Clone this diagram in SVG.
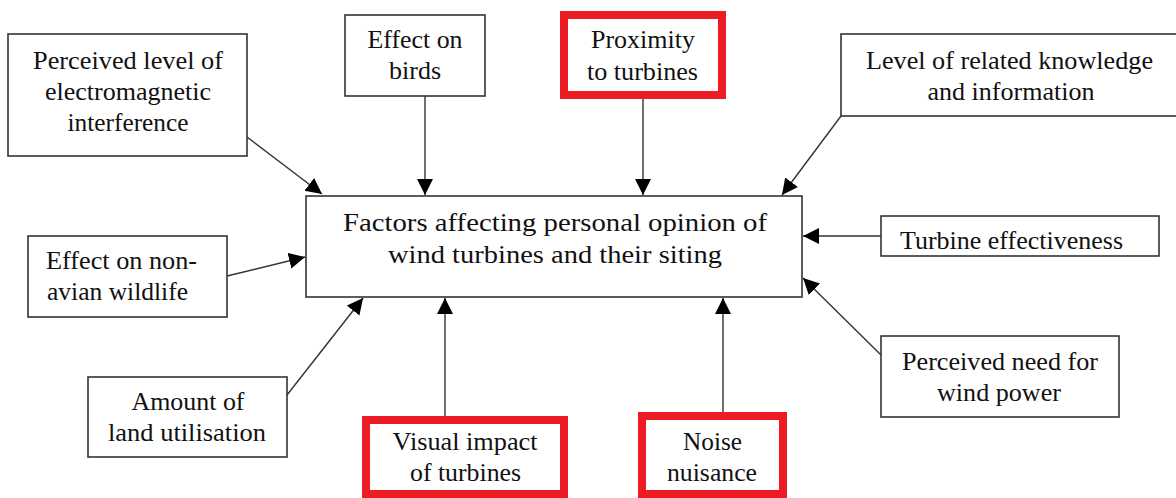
<svg xmlns="http://www.w3.org/2000/svg" width="1176" height="498" viewBox="0 0 1176 498">
<defs>
<marker id="arr" markerUnits="userSpaceOnUse" markerWidth="18" markerHeight="18" refX="16" refY="8" orient="auto">
<path d="M0,0 L16,8 L0,16 z" fill="#000"/>
</marker>
<style>
.box{fill:#fff;stroke:#333;stroke-width:1.6}
.red{fill:#fff;stroke:#ED1C24;stroke-width:8}
text{font-family:"Liberation Serif",serif;font-size:26px;fill:#111;text-anchor:middle}
.l{text-anchor:start}
.c{stroke:#333;stroke-width:1.4;fill:none;marker-end:url(#arr)}
</style>
</defs>
<rect width="1176" height="498" fill="#fff"/>
<g id="connectors">
<line class="c" x1="247" y1="137" x2="322" y2="194"/>
<line class="c" x1="425" y1="96" x2="425" y2="195"/>
<line class="c" x1="643" y1="99" x2="643" y2="195"/>
<line class="c" x1="841" y1="116" x2="782" y2="195"/>
<line class="c" x1="227" y1="276" x2="305" y2="257"/>
<line class="c" x1="881" y1="236" x2="803" y2="236"/>
<line class="c" x1="287" y1="395" x2="363" y2="298"/>
<line class="c" x1="445" y1="416" x2="445" y2="298"/>
<line class="c" x1="723" y1="412" x2="723" y2="298"/>
<line class="c" x1="881" y1="355" x2="803" y2="278"/>
</g>
<g id="center">
<rect class="box" x="306" y="196" width="496" height="101"/>
<text x="555" y="231" textLength="424" lengthAdjust="spacingAndGlyphs">Factors affecting personal opinion of</text>
<text x="555" y="263" textLength="334" lengthAdjust="spacingAndGlyphs">wind turbines and their siting</text>
</g>
<g id="emi">
<rect class="box" x="8" y="34" width="239" height="122"/>
<text x="128" y="69" textLength="190" lengthAdjust="spacingAndGlyphs">Perceived level of</text>
<text x="128" y="100" textLength="166" lengthAdjust="spacingAndGlyphs">electromagnetic</text>
<text x="128" y="131" textLength="121" lengthAdjust="spacingAndGlyphs">interference</text>
</g>
<g id="birds">
<rect class="box" x="345" y="15" width="140" height="81"/>
<text x="415" y="48" textLength="95" lengthAdjust="spacingAndGlyphs">Effect on</text>
<text x="415" y="79">birds</text>
</g>
<g id="proximity">
<rect class="red" x="564" y="15" width="158" height="80"/>
<text x="643" y="48" textLength="104" lengthAdjust="spacingAndGlyphs">Proximity</text>
<text x="642.5" y="80" textLength="111" lengthAdjust="spacingAndGlyphs">to turbines</text>
</g>
<g id="knowledge">
<rect class="box" x="841" y="34" width="340" height="82"/>
<text x="1009.5" y="69" textLength="287" lengthAdjust="spacingAndGlyphs">Level of related knowledge</text>
<text x="1011" y="100" textLength="167" lengthAdjust="spacingAndGlyphs">and information</text>
</g>
<g id="nonavian">
<rect class="box" x="28" y="236" width="199" height="81"/>
<text class="l" x="46" y="269" textLength="151" lengthAdjust="spacingAndGlyphs">Effect on non-</text>
<text class="l" x="47" y="300" textLength="141" lengthAdjust="spacingAndGlyphs">avian wildlife</text>
</g>
<g id="effectiveness">
<rect class="box" x="881" y="216" width="278" height="40"/>
<text class="l" x="900" y="249" textLength="223" lengthAdjust="spacingAndGlyphs">Turbine effectiveness</text>
</g>
<g id="land">
<rect class="box" x="88" y="377" width="199" height="80"/>
<text x="188" y="410" textLength="113" lengthAdjust="spacingAndGlyphs">Amount of</text>
<text x="187" y="441" textLength="158" lengthAdjust="spacingAndGlyphs">land utilisation</text>
</g>
<g id="need">
<rect class="box" x="881" y="336" width="238" height="81"/>
<text x="1000" y="370" textLength="196" lengthAdjust="spacingAndGlyphs">Perceived need for</text>
<text x="999" y="401" textLength="124" lengthAdjust="spacingAndGlyphs">wind power</text>
</g>
<g id="visual">
<rect class="red" x="366" y="420" width="198" height="74"/>
<text x="465" y="450" textLength="145" lengthAdjust="spacingAndGlyphs">Visual impact</text>
<text x="465.5" y="481" textLength="111" lengthAdjust="spacingAndGlyphs">of turbines</text>
</g>
<g id="noise">
<rect class="red" x="642" y="416" width="141" height="78"/>
<text x="712.5" y="450" textLength="59" lengthAdjust="spacingAndGlyphs">Noise</text>
<text x="712" y="481" textLength="90" lengthAdjust="spacingAndGlyphs">nuisance</text>
</g>
</svg>
